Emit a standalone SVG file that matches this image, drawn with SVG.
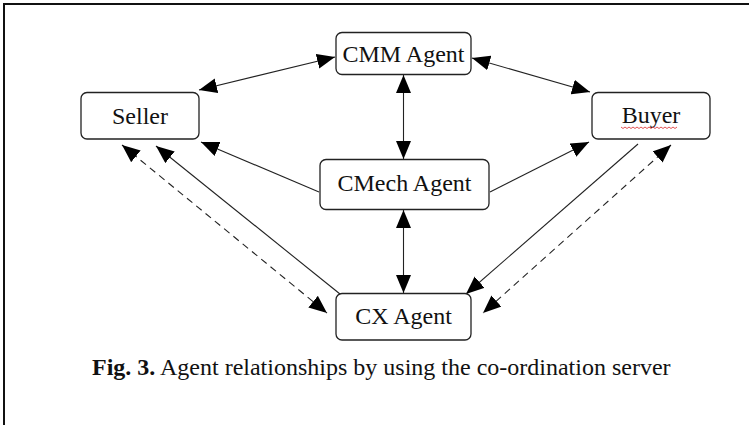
<svg xmlns="http://www.w3.org/2000/svg" width="749" height="425" viewBox="0 0 749 425">
<style>
.box{fill:#fff;stroke:#222;stroke-width:1.3}
.lbl{font-family:"Liberation Serif","Times New Roman",serif;font-size:24px;fill:#111;text-anchor:middle}
.ln{stroke:#222;stroke-width:1.1;fill:none}
.dash{stroke-dasharray:7 5}
.cap{font-family:"Liberation Serif","Times New Roman",serif;font-size:24px;fill:#111}
</style>
<defs>
<marker id="ah" markerUnits="userSpaceOnUse" markerWidth="19" markerHeight="16" refX="18" refY="7.5" orient="auto-start-reverse">
<path d="M0,0 L18,7.5 L0,15 z" fill="#000"/>
</marker>
</defs>
<rect width="749" height="425" fill="#fff"/>
<g id="frame">
<line x1="4" y1="4" x2="749" y2="4" stroke="#111" stroke-width="2"/>
<line x1="4" y1="3" x2="4" y2="425" stroke="#111" stroke-width="2"/>
</g>
<g id="connectors">
<line class="ln" x1="199" y1="90" x2="335" y2="57" marker-start="url(#ah)" marker-end="url(#ah)"/>
<line class="ln" x1="472" y1="58" x2="590" y2="92" marker-start="url(#ah)" marker-end="url(#ah)"/>
<line class="ln" x1="403.5" y1="75" x2="403.5" y2="159" marker-start="url(#ah)" marker-end="url(#ah)"/>
<line class="ln" x1="319" y1="192" x2="201" y2="142" marker-end="url(#ah)"/>
<line class="ln" x1="490" y1="192" x2="589" y2="142" marker-end="url(#ah)"/>
<line class="ln" x1="403.5" y1="210" x2="403.5" y2="293" marker-start="url(#ah)" marker-end="url(#ah)"/>
<line class="ln" x1="340" y1="294" x2="156" y2="146" marker-end="url(#ah)"/>
<line class="ln dash" x1="122" y1="145" x2="327" y2="313" marker-start="url(#ah)" marker-end="url(#ah)"/>
<line class="ln" x1="638" y1="144" x2="466" y2="294" marker-end="url(#ah)"/>
<line class="ln dash" x1="671" y1="145" x2="483" y2="313" marker-start="url(#ah)" marker-end="url(#ah)"/>
</g>
<g id="cmm">
<rect class="box" x="336" y="32.5" width="135" height="42" rx="6"/>
<text class="lbl" x="403.5" y="62">CMM Agent</text>
</g>
<g id="seller">
<rect class="box" x="81" y="92.5" width="118" height="46.5" rx="6"/>
<text class="lbl" x="140" y="124">Seller</text>
</g>
<g id="buyer">
<rect class="box" x="592" y="92.5" width="118" height="46.5" rx="6"/>
<text class="lbl" x="651" y="123">Buyer</text>
<path d="M621,127 l2,1.5 l2,-1.5 l2,1.5 l2,-1.5 l2,1.5 l2,-1.5 l2,1.5 l2,-1.5 l2,1.5 l2,-1.5 l2,1.5 l2,-1.5 l2,1.5 l2,-1.5 l2,1.5 l2,-1.5 l2,1.5 l2,-1.5 l2,1.5 l2,-1.5 l2,1.5 l2,-1.5 l2,1.5 l2,-1.5 l2,1.5 l2,-1.5 l2,1.5 l2,-1.5" fill="none" stroke="#e04040" stroke-width="0.9"/>
</g>
<g id="cmech">
<rect class="box" x="320" y="159.5" width="169" height="50" rx="6"/>
<text class="lbl" x="404.5" y="191">CMech Agent</text>
</g>
<g id="cx">
<rect class="box" x="336" y="293.5" width="135" height="46.5" rx="6"/>
<text class="lbl" x="403.5" y="324">CX Agent</text>
</g>
<text class="cap" x="92" y="375"><tspan font-weight="bold">Fig. 3.</tspan> Agent relationships by using the co-ordination server</text>
</svg>
